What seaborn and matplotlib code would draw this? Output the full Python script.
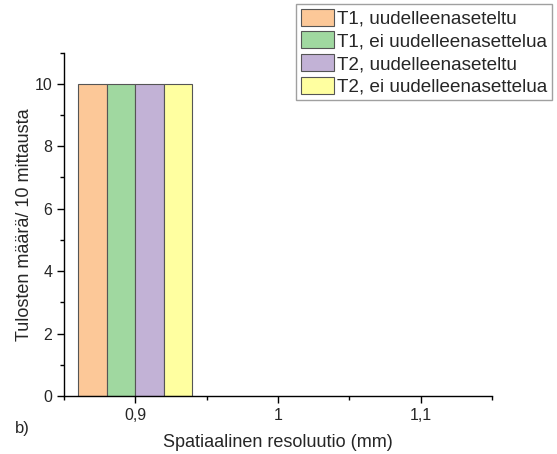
import matplotlib
matplotlib.use("Agg")
import matplotlib.pyplot as plt
from matplotlib.ticker import MultipleLocator, FixedLocator, FuncFormatter
import seaborn as sns
import pandas as pd

# data
series = ["T1, uudelleenaseteltu", "T1, ei uudelleenasettelua",
          "T2, uudelleenaseteltu", "T2, ei uudelleenasettelua"]
resolution = [0.9, 0.9, 0.9, 0.9]
counts = [10, 10, 10, 10]
colors = ["#FCC898", "#A0D8A0", "#C2B2D6", "#FFFFA0"]
xticks = [0.9, 1.0, 1.1]

df = pd.DataFrame({"res": resolution, "count": counts, "series": series})

sns.set_style("ticks")
plt.rcParams["font.family"] = ["Liberation Sans", "DejaVu Sans"]

fig = plt.figure(figsize=(5.57, 4.54), dpi=100)
ax = fig.add_axes([64/557, 1-396/454, (492-64)/557, (396-52.6)/454])

sns.barplot(data=df, x="res", y="count", hue="series", hue_order=series,
            palette=colors, native_scale=True, width=0.08, dodge=True,
            edgecolor="#555555", linewidth=0.8, saturation=1, ax=ax, legend=True)

ax.set_xlim(0.85, 1.15)
ax.set_ylim(0, 11)
ax.xaxis.set_major_locator(FixedLocator(xticks))
ax.xaxis.set_minor_locator(MultipleLocator(0.05))
ax.yaxis.set_major_locator(MultipleLocator(2))
ax.yaxis.set_minor_locator(MultipleLocator(1))
ax.xaxis.set_major_formatter(FuncFormatter(lambda v, p: f"{v:g}".replace(".", ",")))
ax.tick_params(which="major", length=5, width=1, color="black", labelsize=11.5)
ax.tick_params(which="minor", length=3, width=1, color="black")
for s in ["top", "right"]:
    ax.spines[s].set_visible(False)
for s in ["left", "bottom"]:
    ax.spines[s].set_color("black")
    ax.spines[s].set_linewidth(1)

ax.set_xlabel("Spatiaalinen resoluutio (mm)", fontsize=13, labelpad=8)
ax.set_ylabel("Tulosten määrä/ 10 mittausta", fontsize=13, labelpad=1)

handles, labels = ax.get_legend_handles_labels()
ax.get_legend().remove()
leg = fig.legend(handles, labels, loc="upper left",
                 bbox_to_anchor=(296/557, 1-4/454), borderaxespad=0,
                 fontsize=13.6, frameon=True, fancybox=False,
                 handlelength=1.75, handleheight=1.0, labelspacing=0.2,
                 borderpad=0.25, handletextpad=0.15)
leg.get_frame().set_edgecolor("#888888")
leg.get_frame().set_linewidth(1)

fig.text(15/557, 1-428/454, "b)", fontsize=12, va="center", ha="left")

fig.savefig("out.png", dpi=100, facecolor="white")
